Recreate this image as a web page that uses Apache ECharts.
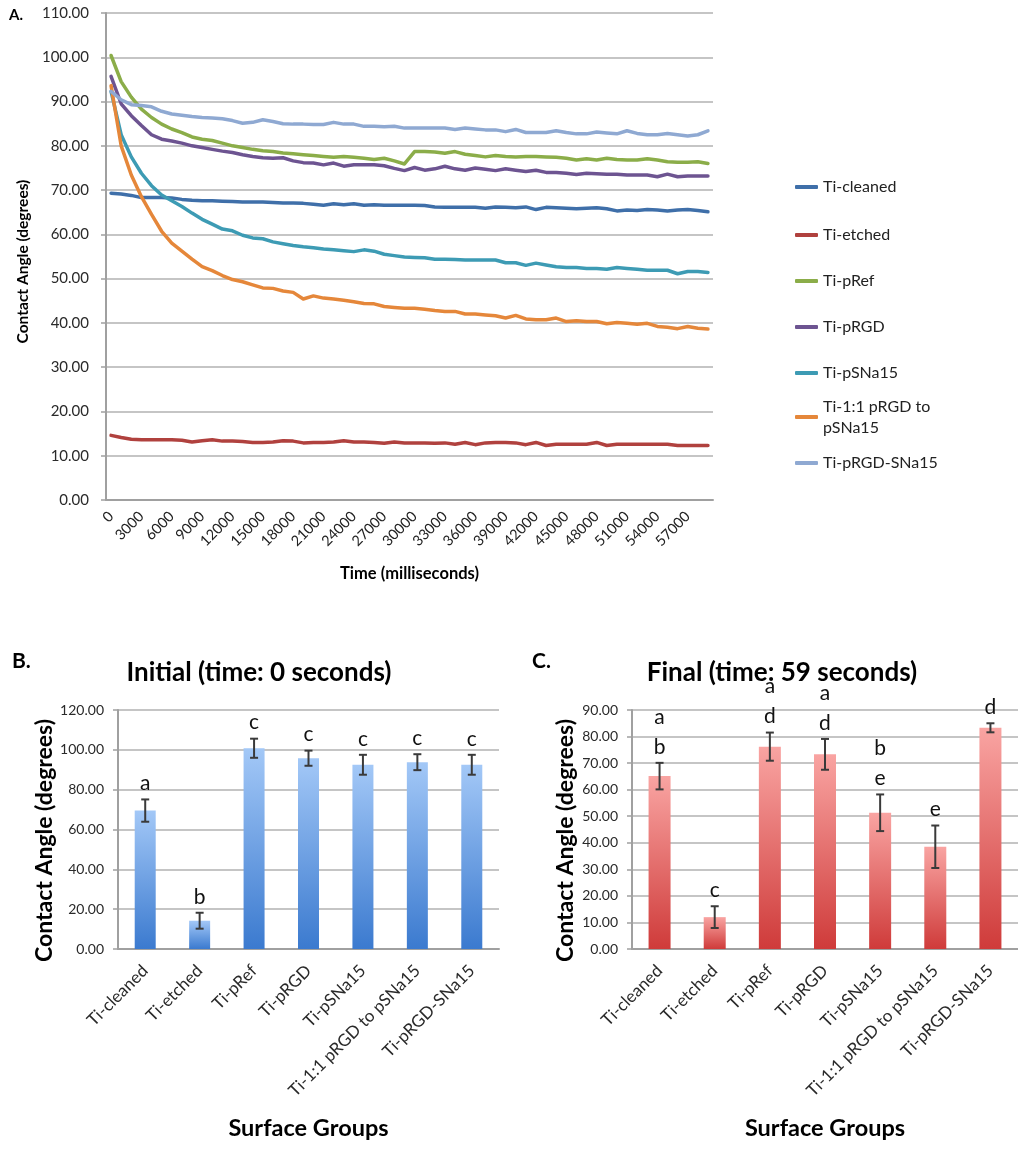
<!DOCTYPE html>
<html>
<head>
<meta charset="utf-8">
<script src="https://cdn.jsdelivr.net/npm/echarts@6/dist/echarts.min.js"></script>
<style>
  html, body { margin: 0; padding: 0; background: #ffffff; }
  #chart { width: 1018px; height: 1167px; }
</style>
</head>
<body>
<div id="chart"></div>
<script>
// ---- Time course of contact angle (panel A) ----
const timeCategories = [
  '0','1000','2000','3000','4000','5000','6000','7000','8000','9000',
  '10000','11000','12000','13000','14000','15000','16000','17000','18000','19000',
  '20000','21000','22000','23000','24000','25000','26000','27000','28000','29000',
  '30000','31000','32000','33000','34000','35000','36000','37000','38000','39000',
  '40000','41000','42000','43000','44000','45000','46000','47000','48000','49000',
  '50000','51000','52000','53000','54000','55000','56000','57000','58000','59000'
];

const seriesNames = [
  'Ti-cleaned', 'Ti-etched', 'Ti-pRef', 'Ti-pRGD', 'Ti-pSNa15',
  'Ti-1:1 pRGD to pSNa15', 'Ti-pRGD-SNa15'
];

const tiCleaned = [
  69.3, 69.1, 68.8, 68.3, 68.3, 68.3, 68.2, 67.9, 67.7, 67.6,
  67.6, 67.5, 67.4, 67.3, 67.3, 67.3, 67.2, 67.1, 67.1, 67.0,
  66.8, 66.6, 66.9, 66.7, 66.9, 66.6, 66.7, 66.6, 66.6, 66.6,
  66.6, 66.5, 66.2, 66.1, 66.1, 66.1, 66.1, 65.9, 66.2, 66.1,
  66.0, 66.2, 65.6, 66.1, 66.0, 65.9, 65.8, 65.9, 66.0, 65.8,
  65.3, 65.5, 65.4, 65.6, 65.5, 65.3, 65.5, 65.6, 65.4, 65.1
];
const tiEtched = [
  14.6, 14.1, 13.7, 13.6, 13.6, 13.6, 13.6, 13.5, 13.1, 13.4,
  13.6, 13.3, 13.3, 13.2, 13.0, 13.0, 13.1, 13.4, 13.3, 12.9,
  13.0, 13.0, 13.1, 13.4, 13.1, 13.1, 13.0, 12.8, 13.1, 12.9,
  12.9, 12.9, 12.8, 12.9, 12.6, 13.0, 12.5, 12.9, 13.0, 13.0,
  12.9, 12.5, 13.0, 12.3, 12.6, 12.6, 12.6, 12.6, 13.0, 12.3,
  12.6, 12.6, 12.6, 12.6, 12.6, 12.6, 12.3, 12.3, 12.3, 12.3
];
const tiPRef = [
  100.4, 94.5, 91.0, 88.3, 86.4, 84.9, 83.8, 83.0, 82.0, 81.5,
  81.2, 80.6, 80.0, 79.6, 79.2, 78.9, 78.7, 78.4, 78.2, 78.0,
  77.8, 77.6, 77.4, 77.6, 77.4, 77.2, 76.9, 77.2, 76.6, 75.9,
  78.7, 78.7, 78.6, 78.3, 78.7, 78.1, 77.8, 77.5, 77.8, 77.6,
  77.5, 77.6, 77.6, 77.5, 77.4, 77.2, 76.8, 77.1, 76.8, 77.2,
  76.9, 76.8, 76.8, 77.1, 76.8, 76.4, 76.3, 76.3, 76.4, 76.0
];
const tiPRgd = [
  95.7, 89.5, 86.8, 84.6, 82.5, 81.5, 81.1, 80.6, 80.0, 79.6,
  79.2, 78.8, 78.5, 78.0, 77.6, 77.3, 77.2, 77.3, 76.6, 76.2,
  76.1, 75.7, 76.1, 75.4, 75.7, 75.7, 75.7, 75.5, 74.9, 74.4,
  75.1, 74.5, 74.8, 75.4, 74.8, 74.5, 75.0, 74.7, 74.4, 74.8,
  74.5, 74.2, 74.5, 74.0, 74.0, 73.8, 73.5, 73.8, 73.7, 73.6,
  73.6, 73.4, 73.4, 73.4, 73.0, 73.6, 73.0, 73.2, 73.2, 73.2
];
const tiPSna15 = [
  92.3, 82.5, 77.5, 73.8, 71.0, 68.9, 67.6, 66.3, 64.8, 63.4,
  62.3, 61.2, 60.8, 59.8, 59.2, 59.0, 58.3, 57.9, 57.5, 57.2,
  57.0, 56.7, 56.5, 56.3, 56.1, 56.5, 56.2, 55.5, 55.2, 54.9,
  54.8, 54.7, 54.4, 54.4, 54.3, 54.2, 54.2, 54.2, 54.2, 53.6,
  53.6, 53.0, 53.5, 53.1, 52.7, 52.5, 52.5, 52.3, 52.3, 52.1,
  52.5, 52.3, 52.1, 51.9, 51.9, 51.9, 51.1, 51.6, 51.6, 51.4
];
const tiMixed = [
  93.6, 80.0, 73.4, 68.5, 64.5, 60.7, 58.0, 56.2, 54.4, 52.7,
  51.8, 50.7, 49.8, 49.3, 48.6, 47.9, 47.8, 47.2, 46.9, 45.4,
  46.1, 45.6, 45.4, 45.1, 44.8, 44.4, 44.3, 43.7, 43.5, 43.3,
  43.3, 43.1, 42.8, 42.6, 42.6, 42.0, 42.0, 41.8, 41.6, 41.1,
  41.7, 40.9, 40.7, 40.7, 41.1, 40.3, 40.5, 40.3, 40.3, 39.8,
  40.1, 39.9, 39.7, 39.9, 39.2, 39.0, 38.7, 39.2, 38.8, 38.6
];
const tiPrgdSna15 = [
  92.3, 90.4, 89.3, 89.1, 88.8, 87.8, 87.2, 86.9, 86.6, 86.4,
  86.3, 86.1, 85.7, 85.1, 85.3, 85.9, 85.5, 85.0, 84.9, 84.9,
  84.8, 84.8, 85.3, 84.9, 84.9, 84.4, 84.4, 84.3, 84.4, 84.0,
  84.0, 84.0, 84.0, 84.0, 83.7, 84.0, 83.8, 83.6, 83.6, 83.2,
  83.7, 83.0, 83.0, 83.0, 83.4, 83.0, 82.7, 82.7, 83.1, 82.9,
  82.7, 83.4, 82.8, 82.5, 82.5, 82.8, 82.5, 82.2, 82.5, 83.4
];

// ---- Initial and final contact angles (panels B and C) ----
const groupLabels = [
  'Ti-cleaned', 'Ti-etched', 'Ti-pRef', 'Ti-pRGD', 'Ti-pSNa15',
  'Ti-1:1 pRGD to pSNa15', 'Ti-pRGD-SNa15'
];
const initialMeans   = [69.5, 14.2, 100.8, 95.8, 92.5, 93.8, 92.5];
const initialErrors  = [5.6, 4.0, 4.8, 3.8, 5.0, 4.0, 5.0];
const initialLetters = ['a', 'b', 'c', 'c', 'c', 'c', 'c'];

const finalMeans   = [65.1, 12.0, 76.2, 73.3, 51.3, 38.5, 83.3];
const finalErrors  = [5.0, 4.1, 5.3, 5.8, 6.9, 8.0, 1.7];
const finalLetters = ['a\nb', 'c', 'a\nd', 'a\nd', 'b\ne', 'e', 'd'];

// ---- styling ----
const FONT = 'Lato, "Open Sans", "DejaVu Sans", sans-serif';
const lineColors = ['#3F6FA9', '#B0413E', '#8BAD49', '#6D5491', '#3D9BB4', '#E5873A', '#8FA9D2'];
const lineData = [tiCleaned, tiEtched, tiPRef, tiPRgd, tiPSna15, tiMixed, tiPrgdSna15];
const GRID_COLOR = '#b2b2b2';
const AXIS_COLOR = '#a0a0a0';

const fmt2 = v => v.toFixed(2);

function barGradient(top, bottom) {
  return new echarts.graphic.LinearGradient(0, 0, 0, 1, [
    { offset: 0, color: top },
    { offset: 1, color: bottom }
  ]);
}

// whiskers (mean ± error) with significance letters stacked above them
function errorBarRenderer(letters) {
  return function (params, api) {
    const idx = api.value(0);
    const mean = api.value(1);
    const err = api.value(2);
    const hi = api.coord([idx, mean + err]);
    const lo = api.coord([idx, mean - err]);
    const x = hi[0];
    const cap = 4;
    const stroke = { stroke: '#3a3a3a', lineWidth: 2 };
    return {
      type: 'group',
      children: [
        { type: 'line', shape: { x1: x, y1: hi[1], x2: x, y2: lo[1] }, style: stroke },
        { type: 'line', shape: { x1: x - cap, y1: hi[1], x2: x + cap, y2: hi[1] }, style: stroke },
        { type: 'line', shape: { x1: x - cap, y1: lo[1], x2: x + cap, y2: lo[1] }, style: stroke },
        {
          type: 'text', x: x, y: hi[1] - 1,
          style: {
            text: letters[idx], font: '21px ' + FONT, fill: '#111',
            align: 'center', verticalAlign: 'bottom', lineHeight: 30
          }
        }
      ]
    };
  };
}

function valueAxis(grid, max, step, labelSize, margin, nameSize, nameGap, namePadding) {
  return {
    gridIndex: grid, type: 'value', min: 0, max: max, interval: step,
    axisLine: { show: true, lineStyle: { color: AXIS_COLOR, width: 2 } },
    axisTick: { show: true, length: 5, lineStyle: { color: AXIS_COLOR, width: 1.5 } },
    splitLine: { show: true, lineStyle: { color: GRID_COLOR, width: 1.5 } },
    axisLabel: { formatter: fmt2, fontSize: labelSize, color: '#2a2a2a', margin: margin, fontFamily: FONT },
    name: 'Contact Angle (degrees)', nameLocation: 'middle', nameRotate: 90, nameGap: nameGap,
    nameTextStyle: { fontSize: nameSize, fontWeight: 'bold', color: '#000', fontFamily: FONT, padding: namePadding }
  };
}

function groupAxis(grid) {
  return {
    gridIndex: grid, type: 'category', data: groupLabels, boundaryGap: true,
    axisLine: { show: true, lineStyle: { color: AXIS_COLOR, width: 2 } },
    axisTick: { show: false },
    axisLabel: { interval: 0, rotate: 45, fontSize: 17, color: '#2a2a2a', margin: 19, fontFamily: FONT },
    name: 'Surface Groups', nameLocation: 'middle', nameGap: 167,
    nameTextStyle: { fontSize: 23.5, fontWeight: 'bold', color: '#000', fontFamily: FONT }
  };
}

// legend rows: one legend component per series, stacked on the right
const legendRows = [177, 225, 271, 317, 363, 385.5, 453];

const legends = seriesNames.map((name, i) => {
  const twoLine = name === 'Ti-1:1 pRGD to pSNa15';
  return {
    data: [name],
    left: 795, top: legendRows[i],
    padding: 0, itemGap: 0, selectedMode: false,
    icon: 'roundRect', itemWidth: 23, itemHeight: 4,
    formatter: twoLine ? 'Ti-1:1 pRGD to\npSNa15' : '{name}',
    textStyle: twoLine
      ? { fontSize: 16, color: '#222', fontFamily: FONT, lineHeight: 21, padding: [21, 0, 0, 0] }
      : { fontSize: 16, color: '#222', fontFamily: FONT, lineHeight: 20 }
  };
});

const lineSeries = seriesNames.map((name, i) => ({
  name: name, type: 'line', xAxisIndex: 0, yAxisIndex: 0,
  data: lineData[i], showSymbol: false, symbol: 'none', smooth: false,
  lineStyle: { color: lineColors[i], width: 3.5, cap: 'round', join: 'round' },
  itemStyle: { color: lineColors[i] },
  z: 2 + i
}));

const option = {
  animation: false,
  backgroundColor: '#ffffff',
  textStyle: { fontFamily: FONT },
  graphic: [
    { type: 'text', x: 9, y: 8, style: { text: 'A.', font: 'bold 15px ' + FONT, fill: '#000' } },
    { type: 'text', x: 12, y: 651, style: { text: 'B.', font: 'bold 21px ' + FONT, fill: '#000' } },
    { type: 'text', x: 532, y: 651, style: { text: 'C.', font: 'bold 21px ' + FONT, fill: '#000' } },
    { type: 'text', x: 259, y: 673, style: { text: 'Initial (time: 0 seconds)', font: 'bold 26px ' + FONT, fill: '#000', align: 'center', verticalAlign: 'middle' } },
    { type: 'text', x: 782, y: 673, style: { text: 'Final (time: 59 seconds)', font: 'bold 26px ' + FONT, fill: '#000', align: 'center', verticalAlign: 'middle' } }
  ],
  legend: legends,
  grid: [
    { left: 106, right: 305, top: 13, bottom: 667 },
    { left: 118, right: 519, top: 710, bottom: 218 },
    { left: 632, right: -6, top: 710, bottom: 218 }
  ],
  xAxis: [
    {
      gridIndex: 0, type: 'category', data: timeCategories, boundaryGap: true,
      axisLine: { show: true, lineStyle: { color: AXIS_COLOR, width: 2 } },
      axisTick: { show: false },
      axisLabel: { interval: 2, rotate: 45, fontSize: 14.5, color: '#222', margin: 14, fontFamily: FONT },
      name: 'Time (milliseconds)', nameLocation: 'middle', nameGap: 65,
      nameTextStyle: { fontSize: 16.5, fontWeight: 'bold', color: '#000', fontFamily: FONT }
    },
    groupAxis(1),
    groupAxis(2)
  ],
  yAxis: [
    valueAxis(0, 110, 10, 15, 17, 15.5, 61, [0, 10, 0, 0]),
    valueAxis(1, 120, 20, 14, 14, 23, 62, [0, 22, 0, 0]),
    valueAxis(2, 90, 10, 14, 14, 23, 55, [0, 22, 0, 0])
  ],
  series: lineSeries.concat([
    {
      name: 'Initial', type: 'bar', xAxisIndex: 1, yAxisIndex: 1,
      data: initialMeans, barWidth: 21,
      itemStyle: { color: barGradient('#A3C8F7', '#3B7ACF') }, z: 2
    },
    {
      name: 'Initial error', type: 'custom', xAxisIndex: 1, yAxisIndex: 1, clip: false,
      data: initialMeans.map((m, i) => [i, m, initialErrors[i]]),
      encode: { x: 0, y: 1 },
      renderItem: errorBarRenderer(initialLetters), z: 5
    },
    {
      name: 'Final', type: 'bar', xAxisIndex: 2, yAxisIndex: 2,
      data: finalMeans, barWidth: 22,
      itemStyle: { color: barGradient('#F9A4A2', '#CF3B3A') }, z: 2
    },
    {
      name: 'Final error', type: 'custom', xAxisIndex: 2, yAxisIndex: 2, clip: false,
      data: finalMeans.map((m, i) => [i, m, finalErrors[i]]),
      encode: { x: 0, y: 1 },
      renderItem: errorBarRenderer(finalLetters), z: 5
    }
  ])
};

const chart = echarts.init(document.getElementById('chart'));
chart.setOption(option);
</script>
</body>
</html>
